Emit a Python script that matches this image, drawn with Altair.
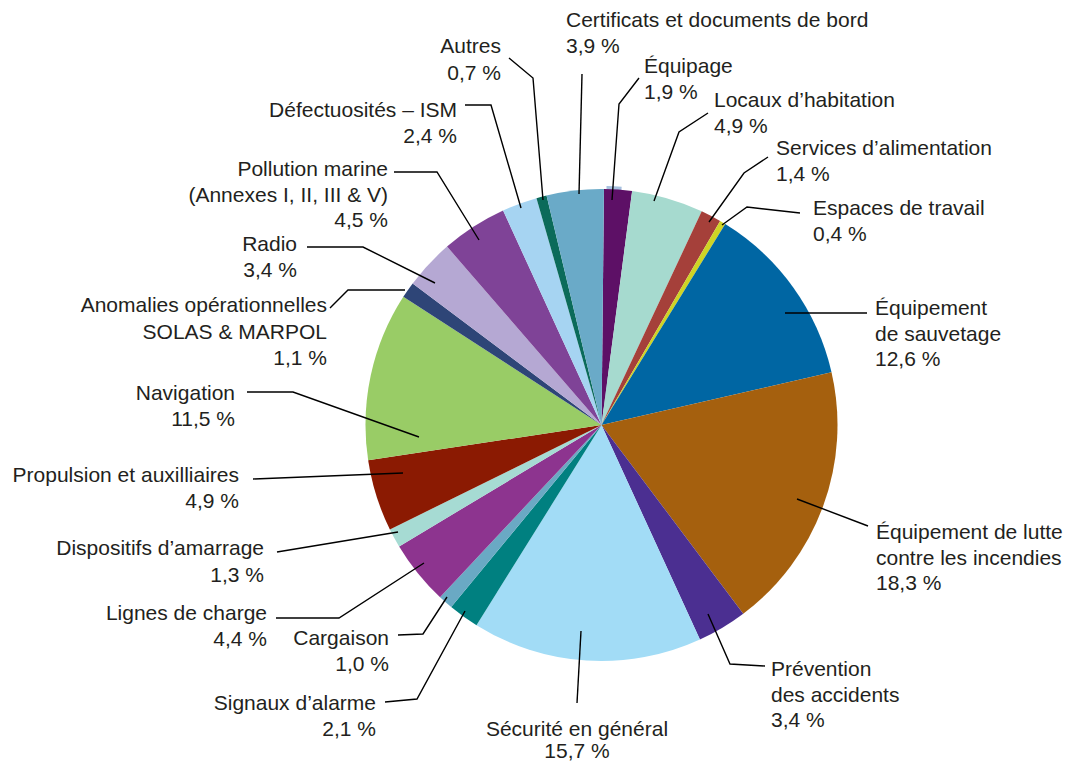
import math
import altair as alt
import pandas as pd

# ---------------- data (clockwise from 12 o'clock) ----------------
categories = [
    "Équipage",
    "Locaux d’habitation",
    "Services d’alimentation",
    "Espaces de travail",
    "Équipement\nde sauvetage",
    "Équipement de lutte\ncontre les incendies",
    "Prévention\ndes accidents",
    "Sécurité en général",
    "Signaux d’alarme",
    "Cargaison",
    "Lignes de charge",
    "Dispositifs d’amarrage",
    "Propulsion et auxilliaires",
    "Navigation",
    "Anomalies opérationnelles\nSOLAS & MARPOL",
    "Radio",
    "Pollution marine\n(Annexes I, II, III & V)",
    "Défectuosités – ISM",
    "Autres",
    "Certificats et documents de bord",
]
values = [1.9, 4.9, 1.4, 0.4, 12.6, 18.3, 3.4, 15.7, 2.1, 1.0,
          4.4, 1.3, 4.9, 11.5, 1.1, 3.4, 4.5, 2.4, 0.7, 3.9]

# ---------------- styles ----------------
colors = ["#5d1066", "#a6dacf", "#a5403a", "#cfd425", "#0066a3",
          "#a5600e", "#4b2f91", "#a2dcf6", "#008080", "#6aa9c4",
          "#8d348f", "#a6dbd3", "#8b1a02", "#99cc66", "#2e4577",
          "#b5a8d3", "#7f4397", "#a6d4f2", "#0b6b5a", "#6aaac8"]
RIM_COLOR = "#a6c1df"
TEXT_COLOR = "#231f20"
FONT = "Liberation Sans"
FONT_SIZE = 21

# ---------------- layout (page pixel coordinates) ----------------
W, H = 1056, 755
CX, CY, R = 601.5, 425, 236
RIM_CX, RIM_CY, RIM_R = 604, 427, 241
START = math.radians(0.6)

# label anchor: (x, first baseline y, align, line height)
label_pos = [
    (644, 73, "left", 26), (714, 107, "left", 26), (776, 155, "left", 26),
    (813, 215, "left", 26), (875, 315, "left", 25.5), (876, 539, "left", 25.5),
    (771, 676, "left", 25.5), (577, 736, "center", 22), (376, 710, "right", 26),
    (389, 645, "right", 26), (267, 620, "right", 26), (264, 555, "right", 26.5),
    (239, 482, "right", 26), (235, 400, "right", 26), (327, 312, "right", 26.5),
    (297, 251, "right", 25.5), (388, 176, "right", 25.5), (457, 117, "right", 26),
    (501, 53, "right", 27), (566, 27, "left", 26),
]
# leader polylines
leaders = [
    [(639, 78), (619, 104), (612, 200)],
    [(708, 113), (679, 132), (654, 201)],
    [(768, 157), (744, 173), (709, 222)],
    [(800, 213), (747, 207), (722, 225)],
    [(867, 313), (785, 313)],
    [(868, 526), (797, 499)],
    [(765, 666), (730, 664), (708, 614)],
    [(577, 703), (581, 631)],
    [(385, 702), (417, 699), (465, 611)],
    [(398, 635), (423, 634), (447, 597)],
    [(276, 618), (339, 618), (424, 563)],
    [(277, 552), (398, 532)],
    [(253, 479), (403, 473)],
    [(247, 392), (293, 392), (419, 437)],
    [(330, 308), (348, 290), (405, 290)],
    [(307, 247), (363, 247), (435, 283)],
    [(394, 172), (437, 172), (479, 240)],
    [(465, 105), (491, 105), (521, 208)],
    [(509, 58), (533, 78), (543, 200)],
    [(582, 74), (579, 194)],
]

# ---------------- tables ----------------
pie_df = pd.DataFrame({"cat": categories, "value": values,
                       "idx": list(range(len(categories)))})


def pct(v):
    return f"{v:.1f}".replace(".", ",") + " %"


text_rows = []
for cat, v, (lx, ly, al, lh) in zip(categories, values, label_pos):
    lines = cat.split("\n") + [pct(v)]
    for i, t in enumerate(lines):
        text_rows.append({"t": t, "x": lx, "y": ly + i * lh, "align": al})
text_df = pd.DataFrame(text_rows)

lead_rows = []
for cat, pts in zip(categories, leaders):
    for j, (px, py) in enumerate(pts):
        lead_rows.append({"cat": cat, "seq": j, "x": px, "y": py})
lead_df = pd.DataFrame(lead_rows)

xs = alt.Scale(domain=[8, 8 + W], range=[0, W], nice=False, zero=False)
ys = alt.Scale(domain=[8, 8 + H], range=[0, H], nice=False, zero=False)

rim = alt.Chart(pd.DataFrame({"v": [1]})).mark_arc(
    radius=RIM_R, color=RIM_COLOR
).encode(
    theta=alt.Theta("v:Q"),
    x=alt.value(RIM_CX - 8), y=alt.value(RIM_CY - 8),
)

pie = alt.Chart(pie_df).mark_arc(radius=R).encode(
    theta=alt.Theta("value:Q", stack=True,
                    scale=alt.Scale(range=[START, START + 2 * math.pi])),
    color=alt.Color("cat:N", scale=alt.Scale(domain=categories, range=colors),
                    legend=None),
    order=alt.Order("idx:Q"),
    x=alt.value(CX - 8), y=alt.value(CY - 8),
)

lines = alt.Chart(lead_df).mark_line(color="black", strokeWidth=1.4).encode(
    x=alt.X("x:Q", scale=xs, axis=None),
    y=alt.Y("y:Q", scale=ys, axis=None),
    detail="cat:N",
    order="seq:Q",
)


def text_layer(al):
    return alt.Chart(text_df[text_df["align"] == al]).mark_text(
        align=al, baseline="alphabetic", font=FONT, fontSize=FONT_SIZE,
        color=TEXT_COLOR,
    ).encode(
        x=alt.X("x:Q", scale=xs, axis=None),
        y=alt.Y("y:Q", scale=ys, axis=None),
        text="t:N",
    )


chart = alt.layer(
    rim, pie, lines, text_layer("left"), text_layer("right"), text_layer("center")
).properties(
    width=W, height=H, autosize=alt.AutoSizeParams(type="none"), padding=0,
    background="white",
).configure_view(strokeWidth=0)

chart.save("out.html", embed_options={"renderer": "svg", "actions": False})
